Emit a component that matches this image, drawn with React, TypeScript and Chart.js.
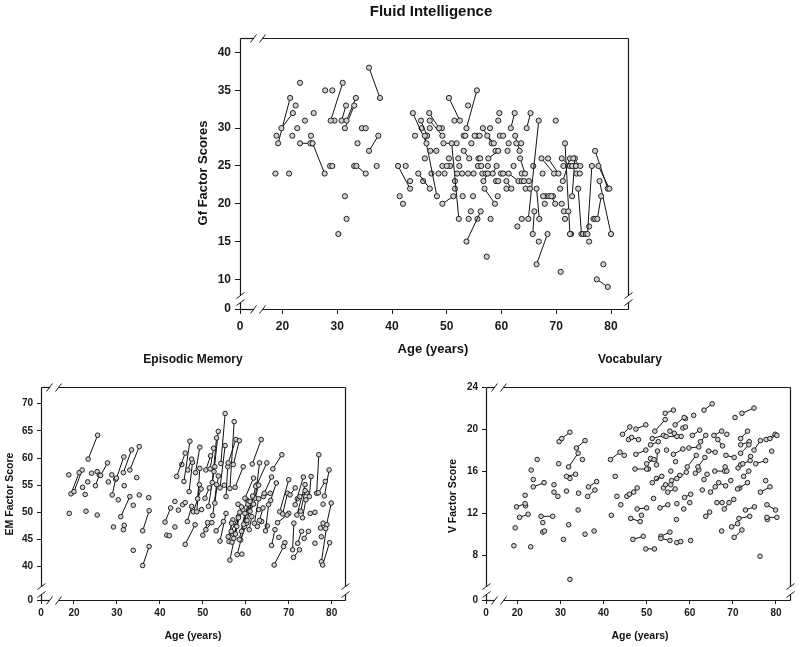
import React, { useEffect, useRef } from "react";
import { Chart, registerables } from "chart.js";

Chart.register(...registerables);

// ---------- DATA ----------
// Tick labels
const ageTicks = [20, 30, 40, 50, 60, 70, 80];
const gfTicks = [10, 15, 20, 25, 30, 35, 40];
const emTicks = [40, 45, 50, 55, 60, 65, 70];
const vTicks = [8, 12, 16, 20, 24];
const breakLabel = "0";

// Titles
const gfTitle = "Fluid Intelligence";
const emTitle = "Episodic Memory";
const vTitle = "Vocabulary";
const ageTitle = "Age (years)";
const gfAxisTitle = "Gf Factor Scores";
const emAxisTitle = "EM Factor Score";
const vAxisTitle = "V Factor Score";

// Fluid intelligence: [age1, score1, age2, score2]
const gfPairs = [
  [19.2, 28, 21.4, 34], [19.8, 30, 21.9, 32], [23.2, 28, 25.1, 28], [25.5, 28, 27.7, 24],
  [28.8, 31, 31.0, 36], [30.8, 31, 31.6, 33], [31.4, 30, 33.1, 33], [31.7, 31, 33.4, 34],
  [33.5, 25, 35.2, 24], [35.8, 38, 37.8, 34], [35.8, 27, 37.5, 29], [41.1, 25, 43.3, 22],
  [43.8, 32, 46.3, 28], [44.8, 24, 46.9, 22], [45.3, 31, 46.4, 29], [46.0, 29, 48.2, 21],
  [46.8, 32, 48.6, 30], [46.9, 31, 49.2, 29], [47.0, 27, 48.1, 27], [49.2, 20, 51.2, 21],
  [49.2, 25, 50.0, 25], [49.4, 28, 51.8, 28], [50.4, 34, 52.4, 31], [50.9, 28, 52.2, 18],
  [51.9, 24, 52.8, 24], [53.1, 29, 53.4, 29], [53.1, 27, 54.1, 26], [53.6, 30, 55.5, 35],
  [53.6, 15, 56.2, 19], [53.9, 24, 54.9, 24], [55.1, 29, 56.0, 29], [55.8, 26, 56.1, 26],
  [55.7, 25, 56.3, 25], [56.6, 30, 58.2, 28], [56.7, 23, 57.5, 24], [56.9, 22, 58.8, 20],
  [57.4, 29, 58.6, 28], [57.6, 26, 59.4, 27], [58.4, 24, 59.1, 25], [59.0, 23, 59.4, 23],
  [59.7, 29, 60.3, 29], [59.9, 24, 60.3, 24], [60.9, 23, 61.8, 22], [61.3, 24, 63.1, 23],
  [61.7, 30, 62.4, 32], [62.5, 29, 63.3, 27], [62.7, 28, 63.6, 28], [63.4, 26, 64.3, 24],
  [63.7, 23, 64.1, 23], [64.9, 18, 66.8, 31], [64.6, 30, 65.3, 32], [64.4, 22, 65.2, 22],
  [65.7, 16, 66.0, 19], [66.4, 12, 68.4, 16], [66.4, 22, 66.9, 18], [67.3, 26, 69.6, 24],
  [67.6, 21, 68.7, 21], [68.5, 26, 70.4, 24], [69.1, 21, 69.8, 20], [71.0, 26, 72.5, 25],
  [71.4, 19, 72.2, 19], [71.2, 23, 72.5, 26], [71.6, 28, 72.5, 16], [72.9, 21, 73.4, 26],
  [72.9, 25, 73.6, 25], [73.1, 26, 74.4, 25], [73.7, 24, 74.3, 24], [74.0, 22, 74.6, 16],
  [74.9, 16, 75.4, 16], [75.7, 16, 76.5, 25], [76.8, 18, 77.1, 18], [77.5, 18, 78.2, 21],
  [77.1, 27, 79.4, 22], [77.4, 10, 79.4, 9], [77.7, 25, 79.7, 22], [77.9, 23, 80.0, 16],
];
const gfSingles = [
  [18.7, 24], [18.9, 29], [21.2, 24], [21.8, 29], [22.4, 33], [22.7, 30], [23.2, 36], [24.1, 31],
  [25.2, 29], [25.7, 32], [25.4, 28], [27.8, 35], [29.1, 35], [29.5, 31], [28.7, 25], [29.1, 25],
  [30.2, 16], [31.4, 21], [31.7, 18], [33.1, 25], [33.7, 28], [34.5, 30], [35.2, 30], [37.2, 25],
  [41.4, 21], [42.0, 20], [42.5, 25], [43.3, 23], [44.2, 29], [45.4, 30], [45.7, 23], [46.4, 29],
  [46.0, 26], [46.9, 30], [47.2, 24], [48.5, 24], [49.1, 30], [49.6, 24], [50.4, 26], [50.6, 25],
  [51.4, 31], [51.5, 23], [51.5, 22], [52.1, 26], [52.3, 25], [52.9, 21], [53.9, 33], [54.0, 18],
  [54.4, 19], [54.5, 28], [54.8, 21], [55.5, 29], [55.6, 18], [56.5, 24], [57.1, 24], [57.3, 13],
  [57.5, 25], [57.9, 30], [58.0, 18], [58.9, 27], [59.3, 21], [59.4, 31], [59.6, 32], [60.9, 22],
  [61.1, 27], [61.3, 28], [62.2, 25], [62.9, 17], [63.7, 24], [63.7, 18], [65.0, 23], [65.8, 25],
  [66.8, 15], [67.5, 24], [67.9, 20], [68.1, 21], [69.4, 21], [69.9, 31], [70.7, 22], [70.8, 11],
  [71.0, 20], [71.3, 25], [71.6, 18], [72.7, 16], [73.3, 25], [76.0, 17], [76.0, 15], [78.6, 12],
];

// Episodic memory
const emPairs = [
  [19.3, 53.4, 21.2, 57.3], [20.0, 53.8, 21.9, 57.8], [23.3, 59.8, 25.5, 64.2], [25.0, 54.9, 25.9, 56.9],
  [26.2, 56.8, 27.8, 59.1], [28.9, 53.2, 29.7, 56.1], [30.9, 49.2, 33.0, 52.9], [29.9, 56.3, 31.6, 60.2],
  [31.5, 57.3, 33.4, 61.5], [33.0, 57.8, 35.2, 62.1], [36.0, 40.2, 37.5, 43.7], [36.0, 46.6, 37.5, 50.3],
  [41.2, 48.2, 42.5, 50.8], [43.9, 56.6, 45.9, 60.9], [45.9, 44.1, 48.2, 47.7], [45.6, 55.7, 47.0, 63.1],
  [46.4, 48.3, 47.4, 51.1], [46.8, 53.8, 47.6, 59.2], [46.5, 57.8, 47.4, 59.8], [47.8, 50.1, 49.6, 54.3],
  [48.6, 50.1, 49.3, 58.1], [48.3, 57.3, 49.3, 62.0], [48.8, 52.5, 49.2, 55.1], [50.0, 45.8, 51.1, 48.1],
  [50.5, 52.6, 51.5, 54.5], [50.7, 57.8, 51.8, 60.4], [50.7, 46.8, 52.1, 48.1], [51.3, 51.1, 52.8, 58.4],
  [51.7, 58.0, 52.5, 61.8], [52.3, 49.4, 53.2, 55.1], [52.8, 51.7, 53.6, 56.7], [53.1, 46.6, 54.8, 48.3],
  [52.6, 57.5, 53.6, 64.9], [52.2, 55.5, 53.2, 63.7], [54.0, 44.7, 55.4, 49.8], [54.0, 54.5, 55.2, 62.3],
  [54.2, 59.0, 55.2, 68.2], [55.4, 52.9, 55.8, 58.4], [55.9, 45.5, 57.0, 48.6], [56.1, 44.6, 56.7, 48.0],
  [56.3, 54.4, 57.3, 66.7], [56.3, 41.2, 57.9, 47.4], [56.6, 46.5, 58.3, 49.2], [55.9, 59.1, 57.7, 63.4],
  [57.1, 58.8, 58.5, 63.2], [57.5, 54.6, 59.4, 58.4], [58.0, 42.2, 59.7, 47.4], [58.8, 44.9, 60.2, 48.0],
  [59.3, 50.5, 60.6, 52.0], [59.8, 52.6, 61.8, 56.3], [60.8, 46.8, 61.4, 49.2], [61.5, 58.9, 63.6, 63.4],
  [62.2, 52.6, 63.2, 59.1], [62.6, 55.1, 64.9, 59.1], [62.7, 47.4, 63.7, 48.3], [64.1, 52.9, 65.7, 53.5],
  [64.3, 53.5, 66.0, 56.5], [64.6, 46.6, 65.3, 51.4], [66.3, 58.0, 68.4, 60.6], [66.0, 43.9, 66.8, 46.8],
  [66.6, 40.3, 68.8, 43.7], [67.4, 48.1, 69.6, 49.5], [67.9, 50.1, 70.0, 56.0], [68.6, 49.7, 69.7, 53.5],
  [70.3, 53.2, 71.5, 54.5], [70.9, 43.1, 71.2, 48.0], [71.1, 41.7, 72.5, 43.1], [71.5, 51.4, 73.4, 56.5],
  [71.9, 49.5, 73.8, 55.1], [72.1, 44.3, 73.0, 46.5], [72.6, 52.9, 74.2, 53.6], [73.6, 45.2, 74.6, 46.5],
  [74.8, 52.9, 75.2, 56.6], [76.5, 53.5, 77.0, 60.6], [76.9, 53.6, 78.5, 55.7], [77.4, 47.1, 78.0, 48.0],
  [77.6, 40.9, 78.9, 47.7], [77.9, 40.3, 79.5, 44.4], [78.3, 53.0, 79.4, 57.8], [78.6, 47.0, 79.9, 51.7],
  [56.8, 44.5, 58.3, 49.0], [57.2, 45.2, 58.6, 50.0], [57.6, 46.0, 59.0, 51.0], [58.5, 45.0, 59.8, 49.8],
  [59.0, 46.5, 60.5, 51.5], [59.5, 47.8, 61.0, 52.0], [60.3, 48.5, 61.6, 53.0], [61.0, 50.2, 62.3, 54.8],
  [61.8, 51.5, 63.0, 55.0], [65.8, 52.2, 67.1, 55.4], [72.8, 50.2, 73.8, 54.0], [73.2, 49.0, 74.0, 52.3],
  [63.2, 48.5, 64.0, 50.8], [62.0, 48.0, 63.0, 52.5],
];
const emSingles = [
  [18.8, 56.9], [18.9, 49.8], [22.0, 54.6], [22.6, 53.3], [22.8, 50.2], [23.2, 55.6], [24.1, 57.2],
  [25.4, 49.5], [25.4, 57.5], [28.0, 55.6], [28.8, 56.9], [29.2, 47.3], [30.3, 52.3], [31.5, 46.8],
  [31.7, 47.6], [31.7, 54.9], [33.8, 43.0], [33.8, 51.3], [34.6, 56.4], [35.2, 53.2], [37.4, 52.7],
  [41.6, 45.8], [42.2, 45.7], [43.5, 47.3], [43.5, 52.0], [44.3, 50.4], [45.3, 51.4], [45.9, 51.8],
  [45.1, 58.8], [49.7, 50.5], [59.1, 42.3], [67.7, 45.4], [69.1, 44.4], [76.1, 44.3], [76.1, 50.0],
  [77.6, 45.5], [60.2, 52.3], [55.0, 55.0], [58.2, 51.5], [61.0, 51.0], [63.0, 50.5], [65.0, 47.5],
  [60.5, 50.0], [57.0, 46.0], [70.0, 49.8], [72.0, 52.5], [75.0, 49.8], [78.0, 51.5],
];

// Vocabulary
const vPairs = [
  [19.8, 12.6, 21.8, 12.9], [20.5, 11.6, 22.5, 11.9], [23.7, 14.5, 26.2, 14.9], [25.5, 11.7, 28.2, 11.7],
  [30.3, 19.1, 32.2, 19.7], [31.4, 15.5, 33.5, 15.7], [31.9, 16.4, 34.1, 17.7], [33.7, 18.2, 35.7, 18.9],
  [36.5, 14.5, 38.4, 15.0], [36.3, 13.6, 38.0, 14.2], [41.6, 17.1, 43.8, 17.8], [44.4, 19.5, 46.1, 20.2],
  [45.4, 13.6, 47.0, 14.0], [46.0, 13.8, 47.8, 14.4], [46.5, 19.2, 48.1, 19.0], [46.3, 11.5, 48.5, 11.2],
  [46.8, 9.5, 49.2, 9.8], [47.3, 16.2, 50.0, 16.2], [47.5, 17.6, 49.8, 18.0], [47.5, 20.0, 49.8, 20.4],
  [47.8, 12.4, 50.0, 12.5], [49.8, 8.6, 51.8, 8.6], [50.0, 16.7, 51.7, 17.1], [50.9, 18.5, 52.7, 18.8],
  [51.3, 19.1, 53.9, 19.4], [51.9, 19.8, 54.3, 20.9], [51.3, 14.9, 53.5, 15.5], [52.3, 16.6, 52.5, 17.9],
  [53.1, 12.5, 54.9, 12.8], [53.3, 9.8, 55.4, 10.2], [53.3, 9.6, 55.4, 9.4], [53.9, 14.4, 54.4, 14.7],
  [54.3, 21.5, 56.2, 21.8], [54.5, 19.3, 57.0, 19.3], [54.9, 14.0, 56.6, 14.3], [55.4, 19.8, 56.4, 19.6],
  [55.8, 15.1, 57.7, 15.6], [56.2, 17.6, 58.4, 18.1], [56.6, 20.4, 58.7, 21.1], [57.0, 15.3, 59.2, 15.9],
  [57.0, 9.2, 57.9, 9.3], [58.4, 20.1, 59.0, 20.2], [58.8, 13.5, 60.2, 13.8], [59.4, 16.4, 61.5, 17.5],
  [59.8, 18.2, 62.1, 18.3], [60.6, 19.4, 62.3, 19.9], [61.3, 15.8, 62.1, 16.1], [61.9, 16.4, 63.5, 17.3],
  [62.5, 18.8, 63.7, 19.4], [63.3, 21.8, 65.2, 22.4], [63.7, 11.7, 64.6, 12.1], [64.4, 17.9, 65.9, 17.8],
  [64.8, 14.0, 65.9, 14.5], [65.6, 19.4, 67.4, 19.8], [65.8, 16.0, 68.1, 16.0], [66.3, 13.0, 67.5, 13.0],
  [66.7, 14.9, 68.3, 14.6], [66.5, 19.0, 67.6, 18.4], [68.0, 12.4, 69.1, 13.0], [68.2, 16.4, 68.6, 16.0],
  [68.4, 17.5, 70.3, 17.3], [69.7, 10.7, 71.1, 11.0], [70.3, 9.7, 72.1, 10.4], [71.2, 16.3, 71.8, 16.6],
  [71.1, 14.3, 73.4, 14.9], [71.4, 11.5, 73.9, 11.7], [71.8, 19.1, 73.4, 19.8], [71.8, 18.5, 73.8, 18.8],
  [71.8, 17.7, 73.7, 18.5], [72.1, 21.5, 74.9, 22.0], [72.3, 16.7, 74.0, 17.0], [72.9, 12.3, 75.0, 12.6],
  [72.5, 15.5, 73.7, 16.0], [74.9, 18.0, 76.4, 18.9], [75.3, 16.7, 77.6, 17.0], [76.4, 14.0, 78.6, 14.5],
  [77.9, 12.8, 79.9, 12.3], [77.9, 11.6, 80.2, 11.6], [77.7, 19.0, 79.8, 19.5], [78.6, 19.1, 80.2, 19.4],
];
const vSingles = [
  [19.2, 8.9], [19.5, 10.6], [21.8, 13.7], [21.9, 12.7], [23.2, 16.1], [23.7, 15.2], [23.1, 8.8],
  [24.6, 17.1], [25.9, 11.1], [25.9, 10.2], [26.3, 10.3], [28.5, 14.7], [28.5, 14.0], [29.4, 13.6],
  [29.6, 16.7], [29.7, 18.8], [30.7, 9.5], [31.4, 14.1], [32.2, 15.3], [31.9, 10.9], [32.2, 5.7],
  [34.1, 12.3], [34.2, 13.9], [35.1, 17.1], [35.7, 10.0], [37.8, 10.3], [41.8, 11.8], [42.7, 15.5],
  [43.1, 13.6], [44.0, 12.8], [44.8, 17.5], [45.8, 19.0], [48.8, 11.8], [50.4, 16.2], [50.9, 17.2],
  [51.6, 13.4], [52.3, 15.3], [54.6, 18.0], [55.6, 16.0], [55.6, 14.7], [56.7, 16.9], [56.9, 11.4],
  [57.0, 12.9], [58.0, 19.3], [58.6, 12.4], [59.0, 21.0], [60.0, 13.0], [60.2, 9.4], [60.9, 21.3],
  [62.9, 14.2], [63.3, 15.2], [64.0, 15.7], [67.4, 10.3], [68.6, 19.5], [69.5, 15.1], [70.2, 13.3],
  [70.5, 21.1], [71.6, 14.4], [74.1, 17.4], [76.3, 7.9], [77.6, 15.1], [78.0, 11.4], [79.0, 17.9],
];

// ---------- RENDERING ----------
const FONT = '"Liberation Sans", Arial, Helvetica, sans-serif';

const framePlugin = {
  id: "frameDecor",
  afterDraw(chart: any, _args: any, opts: any) {
    const { ctx } = chart;
    const ca = chart.chartArea;
    const L = Math.round(ca.left) + 0.5;
    const R = Math.round(ca.right) + 0.5;
    const T = Math.round(ca.top) + 0.5;
    const B = Math.round(ca.bottom) + 0.5;
    const gx1 = L + opts.xGap[0];
    const gx2 = L + opts.xGap[1];
    const gy1 = B - opts.yGap[1];
    const gy2 = B - opts.yGap[0];
    ctx.save();
    ctx.strokeStyle = "#1a1a1a";
    ctx.lineWidth = 1.2;
    const ln = (x1: number, y1: number, x2: number, y2: number) => {
      ctx.beginPath();
      ctx.moveTo(x1, y1);
      ctx.lineTo(x2, y2);
      ctx.stroke();
    };
    ln(L, T, gx1, T); ln(gx2, T, R, T);
    ln(L, B, gx1, B); ln(gx2, B, R, B);
    ln(L, T, L, gy1); ln(L, gy2, L, B);
    ln(R, T, R, gy1); ln(R, gy2, R, B);
    ctx.lineWidth = 1;
    for (const x of [gx1, gx2]) for (const y of [T, B]) ln(x - 3, y + 4, x + 3, y - 4);
    for (const y of [gy1, gy2]) for (const x of [L, R]) ln(x - 4, y + 3, x + 4, y - 3);

    ctx.fillStyle = "#111";
    ctx.textAlign = "center";
    ctx.textBaseline = "middle";
    ctx.font = `bold ${opts.titleSize}px ${FONT}`;
    ctx.fillText(opts.title, opts.titlePos[0], opts.titlePos[1]);
    ctx.font = `bold ${opts.axisSize}px ${FONT}`;
    ctx.fillText(opts.xTitle, opts.xTitlePos[0], opts.xTitlePos[1]);
    ctx.save();
    ctx.translate(opts.yTitlePos[0], opts.yTitlePos[1]);
    ctx.rotate(-Math.PI / 2);
    ctx.fillText(opts.yTitle, 0, 0);
    ctx.restore();
    ctx.restore();
  },
};

type Panel = {
  pairs: number[][];
  singles: number[][];
  xMin: number; xMax: number; yMin: number; yMax: number;
  xTicks: number[]; yTicks: number[];
  pad: { left: number; right: number; top: number; bottom: number };
  tickSize: number; tickLen: number; xPad: number; yPad: number;
  radius: number;
  deco: any;
};

const panels: Panel[] = [
  {
    pairs: gfPairs, singles: gfSingles,
    xMin: 12.24, xMax: 83.1, yMin: 6.08, yMax: 41.93,
    xTicks: ageTicks, yTicks: gfTicks,
    pad: { left: 200, right: 172, top: 38, bottom: 308 },
    tickSize: 12, tickLen: 5, xPad: 5, yPad: 4, radius: 2.6,
    deco: {
      xGap: [13, 22], yGap: [7, 14],
      title: gfTitle, titlePos: [431, 12], titleSize: 15,
      xTitle: ageTitle, xTitlePos: [433, 349], axisSize: 13,
      yTitle: gfAxisTitle, yTitlePos: [203, 173],
    },
  },
  {
    pairs: emPairs, singles: emSingles,
    xMin: 12.32, xMax: 83.1, yMin: 33.85, yMax: 73.08,
    xTicks: ageTicks, yTicks: emTicks,
    pad: { left: 1, right: 455, top: 387, bottom: 17 },
    tickSize: 10, tickLen: 4, xPad: 3, yPad: 4, radius: 2.3,
    deco: {
      xGap: [8, 17], yGap: [6, 14],
      title: emTitle, titlePos: [193, 360], titleSize: 12,
      xTitle: ageTitle, xTitlePos: [193, 636], axisSize: 10.5,
      yTitle: emAxisTitle, yTitlePos: [10, 494],
    },
  },
  {
    pairs: vPairs, singles: vSingles,
    xMin: 12.73, xMax: 83.25, yMin: 3.74, yMax: 24,
    xTicks: ageTicks, yTicks: vTicks,
    pad: { left: 446, right: 10, top: 387, bottom: 17 },
    tickSize: 10, tickLen: 4, xPad: 3, yPad: 4, radius: 2.3,
    deco: {
      xGap: [8, 17], yGap: [6, 14],
      title: vTitle, titlePos: [630, 360], titleSize: 12,
      xTitle: ageTitle, xTitlePos: [640, 636], axisSize: 10.5,
      yTitle: vAxisTitle, yTitlePos: [453, 496],
    },
  },
];

function makeChart(canvas: HTMLCanvasElement, p: Panel) {
  const lineData: any[] = [];
  p.pairs.forEach(([a1, s1, a2, s2]) => {
    lineData.push({ x: a1, y: s1 }, { x: a2, y: s2 }, { x: null, y: null });
  });
  const soloData = p.singles.map(([a, s]) => ({ x: a, y: s }));
  const pointStyle = {
    pointRadius: p.radius,
    pointBorderWidth: 1,
    pointBorderColor: "#222",
    pointBackgroundColor: "#cfcfcf",
  };
  const tickFont = { family: FONT, size: p.tickSize, weight: "bold" as const };
  const near = (a: number, b: number) => Math.abs(a - b) < 1e-6;
  return new Chart(canvas, {
    type: "scatter",
    data: {
      datasets: [
        { data: lineData, showLine: true, spanGaps: false, borderColor: "#111", borderWidth: 1, ...pointStyle } as any,
        { data: soloData, showLine: false, ...pointStyle } as any,
      ],
    },
    options: {
      animation: false,
      responsive: false,
      events: [],
      layout: { padding: p.pad },
      plugins: {
        legend: { display: false },
        tooltip: { enabled: false },
        title: { display: false },
        frameDecor: p.deco,
      } as any,
      scales: {
        x: {
          type: "linear",
          min: p.xMin,
          max: p.xMax,
          afterFit: (s: any) => { s.height = 30; },
          afterBuildTicks: (s: any) => {
            s.ticks = [p.xMin, ...p.xTicks].map((v) => ({ value: v }));
          },
          ticks: {
            autoSkip: false,
            maxRotation: 0,
            padding: p.xPad,
            color: "#1a1a1a",
            font: tickFont,
            callback: (v: any) => (near(Number(v), p.xMin) ? breakLabel : String(v)),
          },
          grid: { drawOnChartArea: false, drawTicks: true, tickLength: p.tickLen, color: "#1a1a1a" },
          border: { display: false },
        },
        y: {
          type: "linear",
          min: p.yMin,
          max: p.yMax,
          afterFit: (s: any) => { s.width = 40; },
          afterBuildTicks: (s: any) => {
            s.ticks = [p.yMin, ...p.yTicks].map((v) => ({ value: v }));
          },
          ticks: {
            autoSkip: false,
            padding: p.yPad,
            color: "#1a1a1a",
            font: tickFont,
            callback: (v: any) => (near(Number(v), p.yMin) ? breakLabel : String(v)),
          },
          grid: { drawOnChartArea: false, drawTicks: true, tickLength: p.tickLen, color: "#1a1a1a" },
          border: { display: false },
        },
      },
    } as any,
    plugins: [framePlugin],
  });
}

export default function App() {
  const r0 = useRef<HTMLCanvasElement>(null);
  const r1 = useRef<HTMLCanvasElement>(null);
  const r2 = useRef<HTMLCanvasElement>(null);

  useEffect(() => {
    const refs = [r0, r1, r2];
    const charts = refs.map((r, i) => makeChart(r.current as HTMLCanvasElement, panels[i]));
    return () => charts.forEach((c) => c.destroy());
  }, []);

  const cs: React.CSSProperties = { position: "absolute", left: 0, top: 0, width: 800, height: 647 };
  return (
    <div style={{ position: "absolute", left: 0, top: 0, width: 800, height: 647, background: "#fff" }}>
      <canvas ref={r0} width={800} height={647} style={cs} />
      <canvas ref={r1} width={800} height={647} style={cs} />
      <canvas ref={r2} width={800} height={647} style={cs} />
    </div>
  );
}
